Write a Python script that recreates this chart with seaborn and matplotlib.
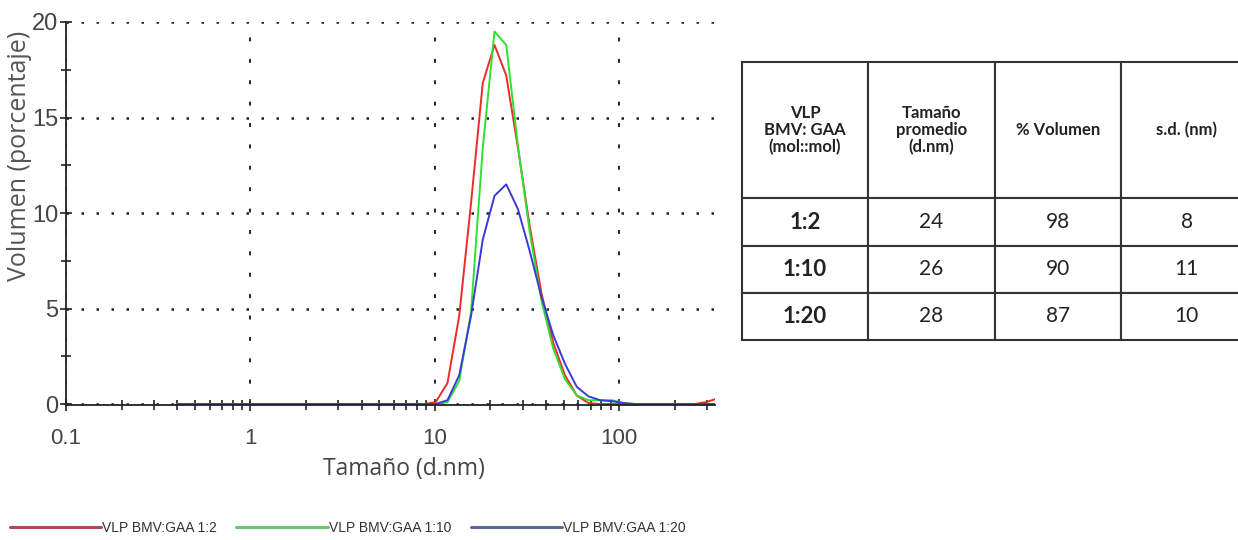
import numpy as np
import pandas as pd
import matplotlib.pyplot as plt
import seaborn as sns
from matplotlib.ticker import FixedLocator, LogLocator, NullFormatter
from matplotlib.lines import Line2D

# size classes (d.nm) and volume distributions
sizes = [0.4, 0.4632, 0.5365, 0.6213, 0.7195, 0.8332, 0.9649, 1.117, 1.294, 1.499,
         1.736, 2.010, 2.328, 2.696, 3.122, 3.615, 4.187, 4.849, 5.615, 6.503,
         7.531, 8.721, 10.10, 11.70, 13.54, 15.69, 18.17, 21.04, 24.36, 28.21,
         32.67, 37.84, 43.82, 50.75, 58.77, 68.06, 78.82, 91.28, 105.7, 122.4,
         141.8, 164.2, 190.1, 220.2, 255.0, 295.3, 342.0, 396.1]
zeros_low = [0.0] * 22
vol_1_2 = zeros_low + [0.1, 1.1, 4.6, 10.5, 16.8, 18.8, 17.2, 13.4, 9.3, 5.8, 3.2, 1.5,
                       0.45, 0.05, 0, 0, 0, 0, 0, 0, 0, 0, 0, 0.1, 0.3, 0]
vol_1_10 = zeros_low + [0, 0.1, 1.2, 4.8, 13.4, 19.5, 18.8, 13.5, 9.0, 5.4, 2.9, 1.3,
                        0.45, 0.2, 0.2, 0.2, 0.05, 0, 0, 0, 0, 0, 0, 0, 0, 0]
vol_1_20 = zeros_low + [0, 0.2, 1.5, 4.6, 8.6, 10.9, 11.5, 10.2, 8.0, 5.6, 3.6, 2.1,
                        0.9, 0.4, 0.2, 0.15, 0.05, 0, 0, 0, 0, 0, 0, 0, 0, 0]

series = ["VLP BMV:GAA 1:2", "VLP BMV:GAA 1:10", "VLP BMV:GAA 1:20"]
line_colors = ["#ee2a2a", "#30e030", "#3a3ad8"]
legend_colors = ["#b04a55", "#6cc46c", "#5a6a98"]

x_ticks = [0.1, 1, 10, 100]
x_ticklabels = ["0.1", "1", "10", "100"]
y_ticks = [0, 5, 10, 15, 20]

table_header = ["VLP\nBMV: GAA\n(mol::mol)", "Tamaño\npromedio\n(d.nm)", "% Volumen", "s.d. (nm)"]
ratios = ["1:2", "1:10", "1:20"]
mean_size = [24, 26, 28]
pct_volume = [98, 90, 87]
sd_nm = [8, 11, 10]

df = pd.DataFrame({
    "Tamaño": sizes * 3,
    "Volumen": vol_1_2 + vol_1_10 + vol_1_20,
    "Muestra": [s for s in series for _ in sizes],
})

sns.set_style("white")
arial = ["Liberation Sans", "DejaVu Sans"]
label_font = ["Open Sans", "DejaVu Sans"]

fig = plt.figure(figsize=(12.38, 5.4), dpi=100)
ax = fig.add_axes([66 / 1238, 135 / 540, 649 / 1238, 383 / 540])
ax.set_xscale("log")
sns.lineplot(data=df, x="Tamaño", y="Volumen", hue="Muestra",
             palette=dict(zip(series, line_colors)), lw=1.4, ax=ax, legend=False)
ax.set_xlim(0.1, 330)
ax.set_ylim(-0.05, 20)

for side in ["top", "right"]:
    ax.spines[side].set_visible(False)
for side in ["left", "bottom"]:
    ax.spines[side].set_color("#222")
    ax.spines[side].set_linewidth(1.3)

ax.set_yticks(y_ticks)
ax.yaxis.set_minor_locator(FixedLocator([2.5, 7.5, 12.5, 17.5]))
ax.set_xticks(x_ticks)
ax.set_xticklabels(x_ticklabels)
ax.xaxis.set_minor_locator(LogLocator(base=10, subs=np.arange(2, 10) * 1.0, numticks=20))
ax.xaxis.set_minor_formatter(NullFormatter())
ax.tick_params(which="both", bottom=True, left=True, direction="inout", color="#222", width=1.2)
ax.tick_params(which="major", length=9)
ax.tick_params(which="minor", length=7)
ax.tick_params(axis="y", pad=1, labelcolor="#444")
ax.tick_params(axis="x", pad=12, labelcolor="#444")
for lab in ax.get_yticklabels():
    lab.set_fontfamily(arial)
    lab.set_fontsize(17)
for lab in ax.get_xticklabels():
    lab.set_fontfamily(arial)
    lab.set_fontsize(16)

ax.grid(axis="y", which="major", color="#222", linestyle=(0, (1, 5)), lw=1.8)
ax.grid(axis="x", which="major", color="#222", linestyle=(0, (2, 9)), lw=1.4)
ax.set_axisbelow(True)

ax.set_xlabel("Tamaño (d.nm)", fontsize=16.5, color="#444", family=label_font, va="top")
ax.set_ylabel("Volumen (porcentaje)", fontsize=18, color="#555", family=label_font)
ax.xaxis.set_label_coords(0.52, -0.135)
ax.yaxis.set_label_coords(-0.052, 0.65)

handles = [Line2D([], [], color=c, lw=2.2) for c in legend_colors]
fig.legend(handles=handles, labels=series, loc="lower left", bbox_to_anchor=(0.0, -0.008),
           ncol=3, frameon=False, handlelength=6.6, handletextpad=0.05, columnspacing=1.4,
           borderaxespad=0.3, prop={"family": arial, "size": 10})
for t in fig.legends[0].get_texts():
    t.set_color("#333")

# summary table on the right
ax_t = fig.add_axes([742 / 1238, 200 / 540, 510 / 1238, 278 / 540])
ax_t.axis("off")
cell_text = [[r, str(m), str(p), str(s)] for r, m, p, s in zip(ratios, mean_size, pct_volume, sd_nm)]
tbl = ax_t.table(cellText=cell_text, colLabels=table_header, cellLoc="center",
                 bbox=[0, 0, 1, 1], colWidths=[126, 127, 126, 131])
tbl.auto_set_font_size(False)
for (r, c), cell in tbl.get_celld().items():
    cell.set_linewidth(1.5)
    cell.set_edgecolor("#333")
    cell.set_height(136 if r == 0 else 47)
    txt = cell.get_text()
    txt.set_family(["Lato", "DejaVu Sans"])
    if r == 0:
        txt.set_fontsize(12)
        txt.set_fontweight("bold")
        txt.set_color("#222")
        txt.set_linespacing(1.1)
    else:
        txt.set_fontsize(15)
        txt.set_color("#222")
        if c == 0:
            txt.set_fontsize(16)
            txt.set_fontweight("bold")

fig.savefig("out.png", dpi=100)
